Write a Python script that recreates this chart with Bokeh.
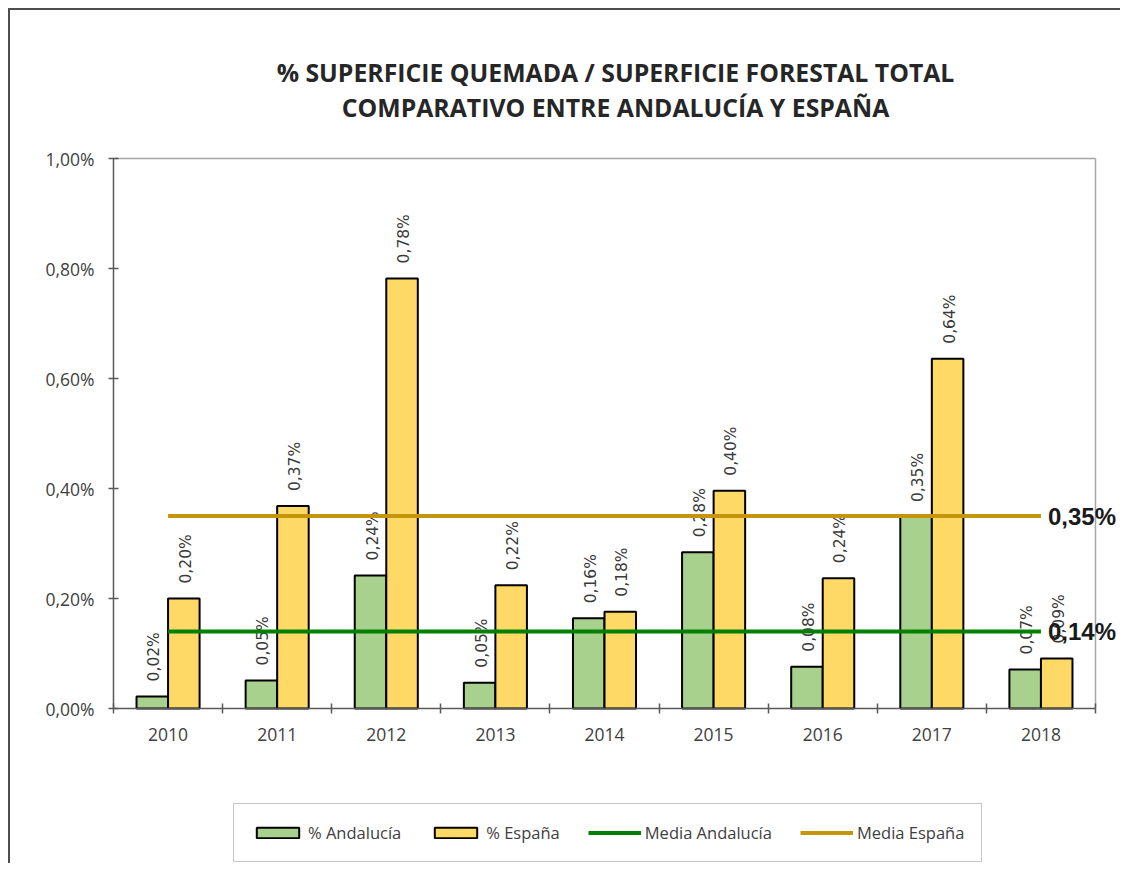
import math
from bokeh.plotting import figure
from bokeh.models import (Range1d, FixedTicker, CustomJSTickFormatter, Legend,
                          LegendItem, ColumnDataSource, Label)
from bokeh.transform import dodge
from bokeh.core.properties import value
from bokeh.embed import file_html
from bokeh.resources import INLINE

# ---------------- data ----------------
years = ["2010", "2011", "2012", "2013", "2014", "2015", "2016", "2017", "2018"]
andalucia = [0.022, 0.051, 0.242, 0.047, 0.164, 0.284, 0.076, 0.348, 0.071]
espana = [0.200, 0.368, 0.782, 0.224, 0.176, 0.396, 0.237, 0.636, 0.091]
media_andalucia = [0.14, 0.14, 0.14, 0.14, 0.14, 0.14, 0.14, 0.14, 0.14]
media_espana = [0.35, 0.35, 0.35, 0.35, 0.35, 0.35, 0.35, 0.35, 0.35]
y_ticks = [0.0, 0.2, 0.4, 0.6, 0.8, 1.0]
title_lines = ["% SUPERFICIE QUEMADA / SUPERFICIE FORESTAL TOTAL",
               "COMPARATIVO ENTRE ANDALUCÍA Y ESPAÑA"]
series_names = ["% Andalucía", "% España", "Media Andalucía", "Media España"]


def pct(v):
    return f"{v:.2f}%".replace(".", ",")


x = list(range(len(years)))
src = ColumnDataSource(dict(
    x=x, year=years,
    and_v=andalucia, esp_v=espana,
    and_lbl=[pct(v) for v in andalucia], esp_lbl=[pct(v) for v in espana],
    m_and=media_andalucia, m_esp=media_espana,
))

GREEN_BAR = "#a9d18e"
YELLOW_BAR = "#ffd966"
GREEN_LINE = "#008000"
GOLD_LINE = "#c5960c"
TXT = "#404040"
AXIS = "#595959"
FRAME = "#a6a6a6"

# ---------------- layout (pixels) ----------------
W, H = 1112, 855                 # canvas
PA_L, PA_T, PA_W, PA_H = 103, 148, 982, 550   # plot area inside the canvas
N = len(years)
x_lo, x_hi = -0.5, N - 0.5
y_lo, y_hi = y_ticks[0], y_ticks[-1]
px_x = PA_W / (x_hi - x_lo)
px_y = PA_H / (y_hi - y_lo)

x_range = Range1d(x_lo - PA_L / px_x, x_hi + (W - PA_L - PA_W) / px_x)
y_range = Range1d(y_lo - (H - PA_T - PA_H) / px_y, y_hi + PA_T / px_y)

p = figure(width=W, height=H, x_range=x_range, y_range=y_range,
           output_backend="svg", toolbar_location=None, title=None,
           min_border=0, min_border_left=0, min_border_right=0,
           min_border_top=0, min_border_bottom=0,
           background_fill_color="white", border_fill_color="white",
           outline_line_color=None)
p.styles = {"margin-left": "8px", "margin-top": "8px",
            "border-left": "2px solid #4d4d4d", "border-top": "2px solid #4d4d4d"}
p.xgrid.visible = False
p.ygrid.visible = False

# x axis: labels at category centres, tick marks on category boundaries
xa = p.xaxis[0]
xa.fixed_location = y_lo
xa.bounds = (x_lo, x_hi)
xa.ticker = FixedTicker(ticks=x, minor_ticks=[i - 0.5 for i in range(N + 1)])
xa.major_label_overrides = {i: y for i, y in zip(x, years)}
xa.major_tick_line_color = None
xa.major_tick_in = 0
xa.major_tick_out = 0
xa.minor_tick_in = 5
xa.minor_tick_out = 5
xa.minor_tick_line_color = AXIS
xa.minor_tick_line_width = 1.5
xa.axis_line_color = AXIS
xa.axis_line_width = 1.5
xa.major_label_text_font = "Open Sans"
xa.major_label_text_font_size = "17.5px"
xa.major_label_text_color = TXT
xa.major_label_standoff = 14

ya = p.yaxis[0]
ya.fixed_location = x_lo
ya.bounds = (y_lo, y_hi)
ya.ticker = FixedTicker(ticks=y_ticks)
ya.formatter = CustomJSTickFormatter(code="return tick.toFixed(2).replace('.', ',') + '%';")
ya.major_tick_in = 5
ya.major_tick_out = 5
ya.major_tick_line_color = AXIS
ya.major_tick_line_width = 1.5
ya.minor_tick_line_color = None
ya.axis_line_color = AXIS
ya.axis_line_width = 1.5
ya.major_label_text_font = "Open Sans"
ya.major_label_text_font_size = "17.5px"
ya.major_label_text_color = TXT
ya.major_label_standoff = 14

# plot-area border (top and right)
p.segment(x0=[x_lo, x_hi], x1=[x_hi, x_hi], y0=[y_hi, y_lo], y1=[y_hi, y_hi],
          line_color=FRAME, line_width=1.5)

# title
cx = (x_lo + x_hi) / 2
for line, dy in zip(title_lines, (-87, -52)):
    p.text(x=[cx], y=[y_hi], text=[line], x_offset=11, y_offset=dy,
           text_align="center", text_baseline="middle",
           text_font=value("Open Sans"), text_font_size="24.8px",
           text_font_style="bold", text_color="#262626")

BW = 0.289
r_and = p.vbar(x=dodge("x", -BW / 2, range=p.x_range), top="and_v", width=BW, source=src,
               fill_color=GREEN_BAR, line_color="black", line_width=2)
r_esp = p.vbar(x=dodge("x", BW / 2, range=p.x_range), top="esp_v", width=BW, source=src,
               fill_color=YELLOW_BAR, line_color="black", line_width=2)

for col, lbl, off in (("and_v", "and_lbl", -BW / 2), ("esp_v", "esp_lbl", BW / 2)):
    p.text(x=dodge("x", off, range=p.x_range), y=col, text=lbl, source=src,
           angle=math.pi / 2, text_align="left", text_baseline="middle",
           x_offset=2, y_offset=-15, text_font=value("DejaVu Sans"),
           text_font_size="15.5px", text_color="#3a3a3a")

r_mand = p.line("x", "m_and", source=src, line_color=GREEN_LINE, line_width=4)
r_mesp = p.line("x", "m_esp", source=src, line_color=GOLD_LINE, line_width=4)

for vals in (media_espana, media_andalucia):
    p.add_layout(Label(x=x[-1], y=vals[-1], text=pct(vals[-1]), x_offset=7,
                       text_baseline="middle", text_font="Liberation Sans",
                       text_font_style="bold", text_font_size="24px",
                       text_color="#1a1a1a"))

legend = Legend(items=[LegendItem(label=series_names[0], renderers=[r_and]),
                       LegendItem(label=series_names[1], renderers=[r_esp]),
                       LegendItem(label=series_names[2], renderers=[r_mand]),
                       LegendItem(label=series_names[3], renderers=[r_mesp])],
                orientation="horizontal", location=(223, 3), margin=0,
                glyph_width=53, glyph_height=13, label_standoff=4, spacing=28,
                padding=17, border_line_color="#8c8c8c", border_line_width=1.5,
                label_text_font="Open Sans", label_text_font_size="16.5px",
                label_text_color=TXT, background_fill_color="white",
                background_fill_alpha=1.0)
p.add_layout(legend)

open("out.html", "w").write(file_html(p, INLINE))
